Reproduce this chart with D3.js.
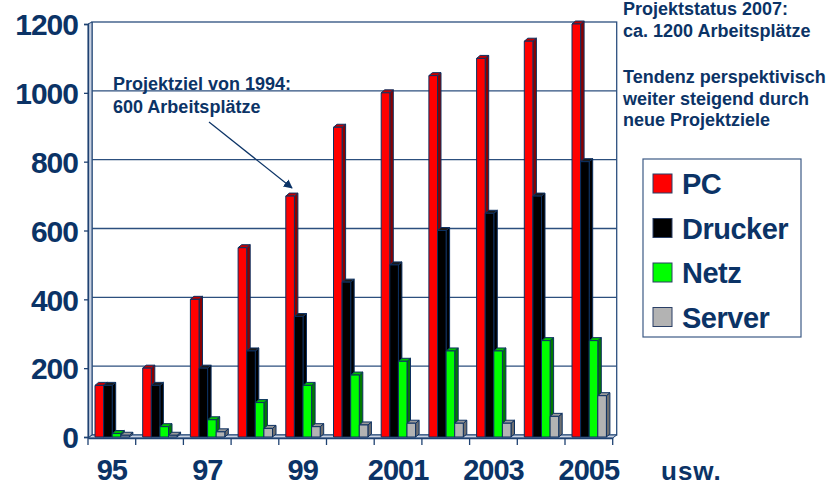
<!DOCTYPE html>
<html>
<head>
<meta charset="UTF-8">
<script src="https://cdn.jsdelivr.net/npm/d3@7"></script>
<style>
  body { margin: 0; background: #fff; }
  text { font-family: "Liberation Sans", Arial, sans-serif; font-weight: bold; fill: #0b3366; }
  .grid line { stroke: #2c4f7e; stroke-width: 1.3; }
</style>
</head>
<body>
<div id="chart"></div>
<script>
// data
var years = ["1995", "1996", "1997", "1998", "1999", "2000", "2001", "2002", "2003", "2004", "2005"];
var yearLabels = ["95", "", "97", "", "99", "", "2001", "", "2003", "", "2005"];
var seriesNames = ["PC", "Drucker", "Netz", "Server"];
var pc      = [150, 200, 400, 550, 700, 900, 1000, 1050, 1100, 1150, 1200];
var drucker = [150, 150, 200, 250, 350, 450, 500, 600, 650, 700, 800];
var netz    = [10, 30, 50, 100, 150, 180, 220, 250, 250, 280, 280];
var server  = [5, 5, 15, 25, 30, 35, 40, 40, 40, 60, 120];
var yTicks  = [0, 200, 400, 600, 800, 1000, 1200];

var values = [pc, drucker, netz, server];
var front = ["#ff0000", "#000000", "#00ff00", "#b3b3b3"];
var topc  = ["#c00000", "#1a1a1a", "#00c000", "#999999"];
var side  = ["#8a0000", "#000000", "#007a00", "#6f6f6f"];

var width = 838, height = 487;
var dx = 3.5, dy = 3; // 3d depth
var outline = "#0d3060";

var svg = d3.select("#chart").append("svg")
    .attr("width", width)
    .attr("height", height);

var x = d3.scaleBand().domain(years).range([88, 612.7]);
var xs = d3.scaleBand().domain(seriesNames).range([7, 41.4]);
var y = d3.scaleLinear().domain([0, 1200]).range([437, 24]);

var x0 = x.range()[0], x1 = x.range()[1], yb = y(0);

// back wall
svg.append("rect")
    .attr("x", x0 + 4).attr("y", y(1200) - 2)
    .attr("width", x1 - x0).attr("height", yb - y(1200))
    .attr("fill", "#fff").attr("stroke", "#2c4f7e").attr("stroke-width", 1.3);

// left wall
svg.append("polygon")
    .attr("points", [[x0, y(1200)], [x0 + 4, y(1200) - 2], [x0 + 4, yb - 2], [x0, yb + 1]].join(" "))
    .attr("fill", "#c9d2e2").attr("stroke", "#1f4272").attr("stroke-width", 1);

// floor
svg.append("polygon")
    .attr("points", [[x0, yb + 1], [x0 + 4, yb - 2], [x1 + 4, yb - 2], [x1, yb + 1]].join(" "))
    .attr("fill", "#c9d2e2").attr("stroke", "#1f4272").attr("stroke-width", 1);

// gridlines on the back wall
svg.append("g").attr("class", "grid")
  .selectAll("line").data(yTicks.filter(function (d) { return d > 0 && d < 1200; }))
  .join("line")
    .attr("x1", x0 + 4).attr("x2", x1 + 4)
    .attr("y1", function (d) { return y(d) - 2; })
    .attr("y2", function (d) { return y(d) - 2; });

// y axis
var yAxis = svg.append("g")
    .attr("transform", "translate(" + x0 + ",0)")
    .call(d3.axisLeft(y).tickValues(yTicks).tickFormat(d3.format("d")).tickSize(4).tickPadding(6));
yAxis.select(".domain").attr("stroke", "#1f4272").attr("stroke-width", 1.3);
yAxis.selectAll(".tick line").attr("stroke", "#1f4272").attr("stroke-width", 1.3);
yAxis.selectAll(".tick text")
    .attr("font-size", 30).attr("letter-spacing", -1)
    .attr("font-family", null).attr("fill", null)
    .attr("dy", "0.36em");

// x axis: ticks at the group boundaries
var xAxis = svg.append("g")
    .attr("transform", "translate(0," + (yb + 1) + ")")
    .call(d3.axisBottom(x).tickSize(0).tickPadding(0).tickFormat(function (d, i) { return yearLabels[i]; }));
xAxis.select(".domain").attr("stroke", "#1f4272").attr("stroke-width", 1.3);
xAxis.selectAll(".tick text")
    .attr("font-size", 29).attr("letter-spacing", -1)
    .attr("font-family", null).attr("fill", null)
    .attr("y", 42).attr("dy", null);
xAxis.selectAll(".bound")
    .data(years.map(function (d) { return x(d); }).concat([x1]))
  .join("line")
    .attr("x1", function (d) { return d; }).attr("x2", function (d) { return d; })
    .attr("y1", 0).attr("y2", 7)
    .attr("stroke", "#1f4272").attr("stroke-width", 1.3);

svg.append("text")
    .attr("x", 661).attr("y", 480)
    .attr("font-size", 26).attr("letter-spacing", 1)
    .text("usw.");

// 3d bars, drawn left to right so each front covers the previous side
years.forEach(function (yr, i) {
    seriesNames.forEach(function (s, k) {
        var v = values[k][i];
        var bx = x(yr) + xs(s), bw = xs.bandwidth(), bt = y(v);
        var g = svg.append("g").attr("stroke", outline).attr("stroke-width", 1).attr("stroke-linejoin", "round");
        g.append("polygon")
            .attr("points", [[bx + bw, bt], [bx + bw + dx, bt - dy], [bx + bw + dx, yb - dy], [bx + bw, yb]].join(" "))
            .attr("fill", side[k]);
        g.append("polygon")
            .attr("points", [[bx, bt], [bx + dx, bt - dy], [bx + bw + dx, bt - dy], [bx + bw, bt]].join(" "))
            .attr("fill", topc[k]);
        g.append("rect")
            .attr("x", bx).attr("y", bt)
            .attr("width", bw).attr("height", yb - bt)
            .attr("fill", front[k]);
    });
});

// legend
var legend = svg.append("g");
legend.append("rect")
    .attr("x", 643).attr("y", 159).attr("width", 158).attr("height", 178)
    .attr("fill", "#fff").attr("stroke", "#3d5a85").attr("stroke-width", 1.2);
var ly = d3.scalePoint().domain(seriesNames).range([183.5, 317]);
seriesNames.forEach(function (s, k) {
    legend.append("rect")
        .attr("x", 653).attr("y", ly(s) - 9.5).attr("width", 19).attr("height", 19)
        .attr("fill", front[k]).attr("stroke", "#2a3f66").attr("stroke-width", 1);
    legend.append("text")
        .attr("x", 682).attr("y", ly(s) + 10.5)
        .attr("font-size", 29).attr("letter-spacing", -0.5)
        .text(s);
});

// annotations
function lines(tx, ty, arr, lh) {
    var t = svg.append("text").attr("x", tx).attr("y", ty).attr("font-size", 18);
    arr.forEach(function (l, i) {
        t.append("tspan").attr("x", tx).attr("y", ty + i * lh).text(l);
    });
}
lines(113, 90, ["Projektziel von 1994:", "600 Arbeitsplätze"], 23);
lines(623, 15, ["Projektstatus 2007:", "ca. 1200 Arbeitsplätze"], 21.5);
lines(623, 83, ["Tendenz perspektivisch", "weiter steigend durch", "neue Projektziele"], 21.5);

svg.append("defs").append("marker")
    .attr("id", "arrow").attr("viewBox", "0 0 10 10")
    .attr("refX", 9).attr("refY", 5)
    .attr("markerWidth", 9).attr("markerHeight", 9)
    .attr("markerUnits", "userSpaceOnUse")
    .attr("orient", "auto")
  .append("path").attr("d", "M0,0L10,5L0,10z").attr("fill", "#0b3366");
svg.append("line")
    .attr("x1", 209).attr("y1", 122).attr("x2", 292).attr("y2", 188)
    .attr("stroke", "#0b3366").attr("stroke-width", 1.2)
    .attr("marker-end", "url(#arrow)");
</script>
</body>
</html>
